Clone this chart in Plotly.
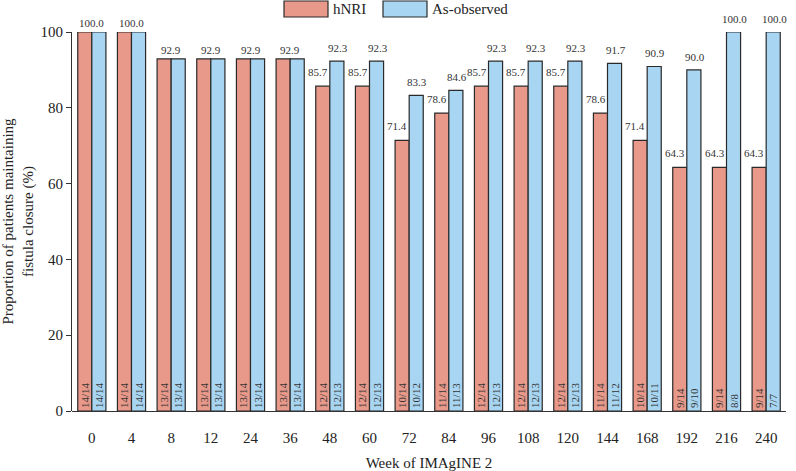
import plotly.graph_objects as go

weeks = ["0", "4", "8", "12", "24", "36", "48", "60", "72", "84", "96", "108", "120", "144", "168", "192", "216", "240"]
hnri = [100.0, 100.0, 92.9, 92.9, 92.9, 92.9, 85.7, 85.7, 71.4, 78.6, 85.7, 85.7, 85.7, 78.6, 71.4, 64.3, 64.3, 64.3]
observed = [100.0, 100.0, 92.9, 92.9, 92.9, 92.9, 92.3, 92.3, 83.3, 84.6, 92.3, 92.3, 92.3, 91.7, 90.9, 90.0, 100.0, 100.0]
hnri_n = ["14/14", "14/14", "13/14", "13/14", "13/14", "13/14", "12/14", "12/14", "10/14", "11/14",
          "12/14", "12/14", "12/14", "11/14", "10/14", "9/14", "9/14", "9/14"]
observed_n = ["14/14", "14/14", "13/14", "13/14", "13/14", "13/14", "12/13", "12/13", "10/12", "11/13",
              "12/13", "12/13", "12/13", "11/12", "10/11", "9/10", "8/8", "7/7"]

RED = "#E8998A"
BLUE = "#A8D6F2"
EDGE = "#2a2a2a"
FONT = "Liberation Serif"

fig = go.Figure()
for name, vals, ns, col in [("hNRI", hnri, hnri_n, RED), ("As-observed", observed, observed_n, BLUE)]:
    fig.add_trace(go.Bar(
        x=weeks, y=vals, name=name, text=ns,
        marker=dict(color=col, line=dict(color=EDGE, width=1.2)),
        textposition="inside", insidetextanchor="start", textangle=-90,
        constraintext="none",
        insidetextfont=dict(family=FONT, size=11, color="#333333"),
        showlegend=False, hoverinfo="skip",
    ))

lab_font = dict(family=FONT, size=11, color="#333333")
annotations = []
for i, (a, b) in enumerate(zip(hnri, observed)):
    if abs(a - b) < 1e-9:
        annotations.append(dict(x=i, y=a, text=f"{a:.1f}", showarrow=False, yanchor="bottom",
                                yshift=1, xref="x", yref="y", font=lab_font))
    else:
        annotations.append(dict(x=i, y=a, text=f"{a:.1f}", showarrow=False, yanchor="bottom",
                                yshift=6, xshift=-12, xref="x", yref="y", font=lab_font))
        annotations.append(dict(x=i, y=b, text=f"{b:.1f}", showarrow=False, yanchor="bottom",
                                yshift=5, xshift=8, xref="x", yref="y", font=lab_font))

# legend drawn manually (wide swatches); plot area spans x 72..786, y 32..411 px
def px(x):
    return (x - 72) / 714

def py(y):
    return (411 - y) / 379

shapes = [
    dict(type="rect", xref="paper", yref="paper", x0=px(284), x1=px(328), y0=py(17), y1=py(1),
         fillcolor=RED, line=dict(color=EDGE, width=1.2)),
    dict(type="rect", xref="paper", yref="paper", x0=px(383), x1=px(427), y0=py(17), y1=py(1),
         fillcolor=BLUE, line=dict(color=EDGE, width=1.2)),
]
annotations.append(dict(xref="paper", yref="paper", x=px(331), y=py(9), text="hNRI",
                        showarrow=False, xanchor="left", yanchor="middle",
                        font=dict(family=FONT, size=15, color="#222222")))
annotations.append(dict(xref="paper", yref="paper", x=px(430), y=py(9), text="As-observed",
                        showarrow=False, xanchor="left", yanchor="middle",
                        font=dict(family=FONT, size=15, color="#222222")))

fig.update_layout(
    width=796, height=471,
    margin=dict(l=72, r=10, t=32, b=60, autoexpand=False),
    paper_bgcolor="white", plot_bgcolor="white",
    barmode="group", bargap=0.29, bargroupgap=0,
    hovermode=False,
    font=dict(family=FONT, size=14, color="#222222"),
    annotations=annotations, shapes=shapes,
    xaxis=dict(
        type="category", categoryorder="array", categoryarray=weeks,
        range=[-0.5, len(weeks) - 0.5], automargin=False,
        showgrid=False, zeroline=False, tickangle=0,
        showline=False, ticks="", ticklabelstandoff=16, tickfont=dict(family=FONT, size=15),
        title=dict(text="Week of IMAgINE 2", font=dict(family=FONT, size=15), standoff=16),
    ),
    yaxis=dict(
        range=[0, 100], tickvals=[0, 20, 40, 60, 80, 100], showgrid=False, zeroline=True,
        zerolinecolor="#333333", zerolinewidth=1, automargin=False,
        showline=True, linecolor="#333333", linewidth=1, ticks="outside", ticklen=5, tickcolor="#333333",
        tickfont=dict(family=FONT, size=15),
        title=dict(text="Proportion of patients maintaining<br>fistula closure (%)", font=dict(family=FONT, size=15), standoff=6),
    ),
)
fig.write_html("out.html", config={"displayModeBar": False},
               post_script="document.body.style.margin='0';")
